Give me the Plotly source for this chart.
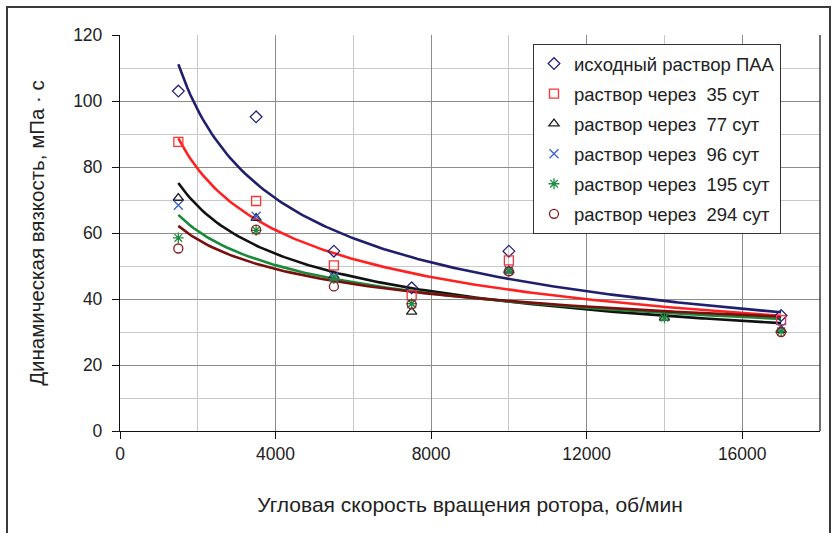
import numpy as np
import plotly.graph_objects as go

# Rotor speed, rpm
speed = [1500, 3500, 5500, 7500, 10000, 14000, 17000]

# Dynamic viscosity, mPa·s (None = not measured)
visc_initial = [103, 95.2, 54.5, 43.4, 54.5, None, 35.0]
visc_35 = [87.6, 69.7, 50.2, 41.1, 51.7, None, 33.6]
visc_77 = [70.6, 64.5, 47.0, 36.1, 48.6, 34.3, 30.6]
visc_96 = [68.4, 65.1, 46.8, 38.6, 48.8, None, 31.4]
visc_195 = [58.5, 60.8, 46.2, 38.6, 48.4, 34.3, 30.2]
visc_294 = [55.3, 61.0, 43.8, 38.4, 48.4, None, 30.0]

labels = [
    "исходный раствор ПАА",
    "раствор через  35 сут",
    "раствор через  77 сут",
    "раствор через  96 сут",
    "раствор через  195 сут",
    "раствор через  294 сут",
]
series = [visc_initial, visc_35, visc_77, visc_96, visc_195, visc_294]
symbols = ["diamond-open", "square-open", "triangle-up-open", "x-thin-open",
           "asterisk-open", "circle-open"]
marker_colors = ["#23237a", "#ff3333", "#222222", "#3a5fcd", "#1e8c3e", "#8b1a1a"]
sizes = [9, 9, 9, 9, 9, 9]
# power trend line colours (no trend line for the 96-day series)
trend_colors = ["#1f1f6e", "#ff2020", "#111111", None, "#1a8a3a", "#7a0e0e"]

fig = go.Figure()

# power-law trend lines y = a * x^b fitted in log-log space
x_fit = np.linspace(1500, 17000, 200)
for vals, col in zip(series, trend_colors):
    if col is None:
        continue
    xs = np.array([x for x, v in zip(speed, vals) if v is not None], float)
    ys = np.array([v for v in vals if v is not None], float)
    b, lna = np.polyfit(np.log(xs), np.log(ys), 1)
    fig.add_trace(go.Scatter(
        x=x_fit, y=np.exp(lna) * x_fit ** b, mode="lines",
        line=dict(color=col, width=2.6), showlegend=False, hoverinfo="skip",
    ))

for i, (vals, name, sym, col, sz) in enumerate(zip(series, labels, symbols, marker_colors, sizes)):
    fig.add_trace(go.Scatter(
        x=speed, y=vals, mode="markers", name=name, legendgroup=f"g{i}",
        marker=dict(symbol=sym, color=col, size=sz, line=dict(color=col, width=1.3)),
    ))

L, R, T, B = 120, 12, 35, 102
W, H = 832, 533
pw, ph = W - L - R, H - T - B

def px_x(p):
    return (p - L) / pw

def px_y(p):
    return (H - B - p) / ph

font = "Liberation Sans, Arial, sans-serif"

fig.update_layout(
    width=W, height=H,
    margin=dict(l=L, r=R, t=T, b=B, pad=0),
    paper_bgcolor="white", plot_bgcolor="white",
    font=dict(family=font, size=17, color="#222222"),
    showlegend=True,
    legend=dict(
        x=px_x(533), y=px_y(44), xanchor="left", yanchor="top",
        bgcolor="white", bordercolor="#333333", borderwidth=1,
        font=dict(size=18.5, color="#222222"),
        traceorder="grouped", tracegroupgap=3, itemwidth=30,
    ),
    xaxis=dict(
        range=[0, 18000], tickmode="linear", tick0=0, dtick=4000, tickformat="d",
        ticks="outside", ticklen=7, tickcolor="#111111",
        showline=True, linecolor="#111111", linewidth=1.3,
        showgrid=True, gridcolor="#8c8c8c", gridwidth=1.3,
        minor=dict(dtick=2000, showgrid=True, gridcolor="#c8c8c8", gridwidth=1.3),
        zeroline=False, tickfont=dict(size=17.5),
        title=dict(text="Угловая скорость вращения ротора, об/мин",
                   font=dict(size=21), standoff=34),
    ),
    yaxis=dict(
        range=[0, 120], tickmode="linear", tick0=0, dtick=20,
        ticks="outside", ticklen=7, tickcolor="#111111",
        showline=True, linecolor="#111111", linewidth=1.3,
        showgrid=True, gridcolor="#8c8c8c", gridwidth=1.3,
        minor=dict(dtick=10, showgrid=True, gridcolor="#c8c8c8", gridwidth=1.3),
        zeroline=False, tickfont=dict(size=17.5), ticklabelstandoff=6,
        title=dict(text="Динамическая вязкость, мПа · с",
                   font=dict(size=20.5), standoff=22),
    ),
    shapes=[
        # right border of the plot area
        dict(type="line", xref="paper", yref="paper", x0=1, x1=1, y0=0, y1=1,
             line=dict(color="#222222", width=1.3)),
        # outer chart frame
        dict(type="rect", xref="paper", yref="paper",
             x0=px_x(7), x1=px_x(830), y0=px_y(560), y1=px_y(7),
             line=dict(color="#3a3a3a", width=2)),
    ],
)

fig.write_html("out.html")
